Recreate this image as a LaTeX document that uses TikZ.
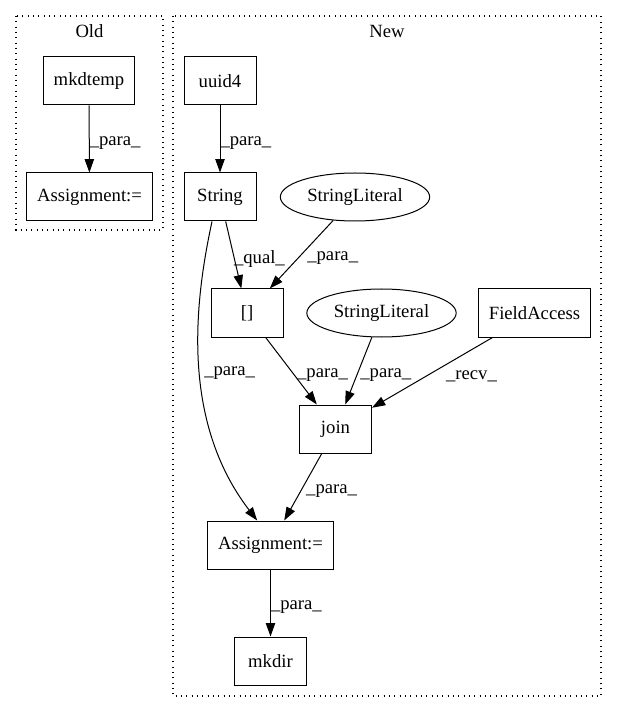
\documentclass[tikz,border=0pt]{standalone}
\usepackage{fontspec}
\setmainfont{Liberation Serif}
\usetikzlibrary{shapes.geometric,arrows.meta}

\tikzset{
  box/.style={draw, rectangle, line width=0.75pt, minimum width=54pt, minimum height=36pt, inner xsep=8pt, font=\fontsize{14pt}{16pt}\selectfont},
  lit/.style={draw, ellipse, line width=0.75pt, minimum width=112pt, minimum height=36pt, inner sep=0pt, font=\fontsize{14pt}{16pt}\selectfont},
  edge/.style={line width=0.75pt, -{Triangle[length=10pt,width=7pt]}},
  lbl/.style={anchor=west, inner sep=0pt, yshift=-3pt, font=\fontsize{14pt}{16pt}\selectfont},
  cluster/.style={line width=0.8pt, dash pattern=on 0.8pt off 3.2pt},
  title/.style={font=\fontsize{14pt}{16pt}\selectfont}
}

\begin{document}
\begin{tikzpicture}[x=0.75pt, y=-0.75pt]
        \useasboundingbox (0,0) rectangle (617,712);

        % clusters
        \draw[cluster] (16,16) rectangle (163,230);
        \draw[cluster] (173,16) rectangle (601,696);
        \node[title] (old) at (89.5,31) {Old};
        \node[title] (new) at (387,31) {New};

        % old
        \node[box] (mkdtemp) at (89,81) {mkdtemp};
        \node[box] (oldassign) at (89.5,197) {Assignment:=};

        % new
        \node[box] (uuid) at (220,81) {uuid4};
        \node[box] (string) at (220,197) {String};
        \node[lit] (lita) at (355,197) {StringLiteral};
        \node[box] (index) at (247,313) {[]};
        \node[lit] (litb) at (381.5,313) {StringLiteral};
        \node[box] (field) at (534.5,313) {FieldAccess};
        \node[box] (join) at (335.5,429) {join};
        \node[box] (newassign) at (270.5,545) {Assignment:=};
        \node[box] (mkdir) at (270.5,661) {mkdir};

        \coordinate (strout) at ([xshift=-6pt]string.south);
        \coordinate (assignin) at ([xshift=-10pt]newassign.north);

        \draw[edge] (mkdtemp) -- node[lbl] {\_para\_} (oldassign);
        \draw[edge] (uuid) -- node[lbl] {\_para\_} (string);
        \draw[edge] (string) -- node[lbl] {\_qual\_} (index);
        \draw[edge] (lita) -- node[lbl, xshift=4pt] {\_para\_} (index);
        \draw[edge] (strout) .. controls (195,300) and (180,420) .. node[lbl, pos=0.52, xshift=3pt] {\_para\_} (assignin);
        \draw[edge] (index) -- node[lbl, xshift=4pt] {\_para\_} (join);
        \draw[edge] (litb) -- node[lbl, xshift=1pt] {\_para\_} (join);
        \draw[edge] (field) -- node[lbl, xshift=10pt] {\_recv\_} (join);
        \draw[edge] (join) -- node[lbl, xshift=2pt] {\_para\_} (newassign);
        \draw[edge] (newassign) -- node[lbl] {\_para\_} (mkdir);

        \end{tikzpicture}
\end{document}
